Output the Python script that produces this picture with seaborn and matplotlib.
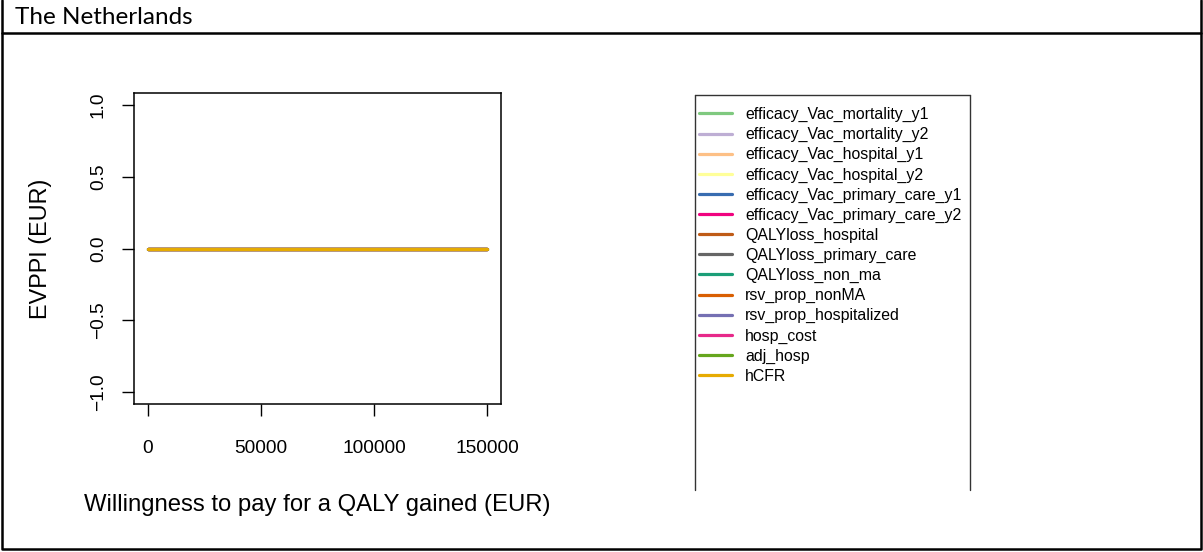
import matplotlib
matplotlib.use("Agg")
import matplotlib.pyplot as plt
from matplotlib.lines import Line2D
import seaborn as sns
import pandas as pd

# ---- data ----
wtp = [0, 25000, 50000, 75000, 100000, 125000, 150000]
parameters = [
    "efficacy_Vac_mortality_y1", "efficacy_Vac_mortality_y2",
    "efficacy_Vac_hospital_y1", "efficacy_Vac_hospital_y2",
    "efficacy_Vac_primary_care_y1", "efficacy_Vac_primary_care_y2",
    "QALYloss_hospital", "QALYloss_primary_care", "QALYloss_non_ma",
    "rsv_prop_nonMA", "rsv_prop_hospitalized", "hosp_cost", "adj_hosp", "hCFR",
]
evppi = {p: [0.0, 0.0, 0.0, 0.0, 0.0, 0.0, 0.0] for p in parameters}
colors = ["#7FC97F", "#BEAED4", "#FDC086", "#FFFF99", "#386CB0", "#F0027F",
          "#BF5B17", "#666666", "#1B9E77", "#D95F02", "#7570B3", "#E7298A",
          "#66A61E", "#E6AB02"]
x_ticks = [0, 50000, 100000, 150000]
y_ticks = [-1.0, -0.5, 0.0, 0.5, 1.0]
y_ticklabels = ["\u22121.0", "\u22120.5", "0.0", "0.5", "1.0"]

df = pd.DataFrame([(w, p, v) for p in parameters for w, v in zip(wtp, evppi[p])],
                  columns=["wtp", "parameter", "evppi"])

sns.set_style("ticks")
plt.rcParams["font.family"] = ["Liberation Sans", "DejaVu Sans"]
plt.rcParams["text.color"] = "black"
plt.rcParams["axes.labelcolor"] = "black"

W, H = 1203, 552
fig = plt.figure(figsize=(W / 100, H / 100), dpi=100)

def fx(x):
    return x / W

def fy(y):
    return 1 - y / H

ax_l, ax_r, ax_t, ax_b = 134, 501, 93, 404
ax = fig.add_axes([fx(ax_l), fy(ax_b), (ax_r - ax_l) / W, (ax_b - ax_t) / H])

sns.lineplot(data=df, x="wtp", y="evppi", hue="parameter", hue_order=parameters,
             palette=colors, linewidth=2.3, ax=ax, legend=True, estimator=None)
ax.get_legend().remove()

ax.set_xlim(-6000, 156000)
ax.set_ylim(-1.08, 1.08)
ax.set_xticks(x_ticks)
ax.set_xticklabels([str(t) for t in x_ticks])
ax.set_yticks(y_ticks)
ax.set_yticklabels(y_ticklabels, rotation=90, va="center")
ax.tick_params(axis="both", direction="out", length=8.6, width=1.0, color="black",
               labelsize=13.8, labelcolor="black", bottom=True, left=True)
ax.tick_params(axis="x", pad=17)
ax.tick_params(axis="y", pad=11)
for s in ax.spines.values():
    s.set_visible(True)
    s.set_color("black")
    s.set_linewidth(1.1)

ax.set_xlabel("Willingness to pay for a QALY gained (EUR)", fontsize=17.2, va="center",
              color="black")
ax.xaxis.set_label_coords(0.5, (ax_b - 505) / (ax_b - ax_t))
ax.set_ylabel("EVPPI (EUR)", fontsize=16.8, va="center", color="black")
ax.yaxis.set_label_coords((40 - ax_l) / (ax_r - ax_l), 0.5)

# legend
leg_handles = [Line2D([], [], color=c, lw=2.3) for c in colors]
leg = fig.legend(leg_handles, parameters, loc="upper left",
                 bbox_to_anchor=(fx(699), fy(107)), frameon=False, fontsize=11.4,
                 handlelength=2.09, handletextpad=0.82, labelspacing=0.315,
                 borderpad=0, borderaxespad=0, labelcolor="black")
# legend frame (open at the bottom)
for xs, ys in [((695, 695), (95, 490)), ((970, 970), (95, 490)), ((695, 970), (95, 95))]:
    fig.add_artist(Line2D([fx(xs[0]), fx(xs[1])], [fy(ys[0]), fy(ys[1])],
                          transform=fig.transFigure, color="#333333", lw=1.0))

# outer panel border and title row
fig.add_artist(Line2D([fx(2), fx(2), fx(1201), fx(1201)], [fy(0), fy(549), fy(549), fy(0)],
                      transform=fig.transFigure, color="black", lw=1.8))
fig.add_artist(Line2D([fx(2), fx(1201)], [fy(33), fy(33)],
                      transform=fig.transFigure, color="black", lw=1.8))
fig.text(fx(15), fy(17), "The Netherlands", fontsize=17.5, family=["Lato", "DejaVu Sans"],
         ha="left", va="center", color="black")

fig.savefig("out.png", dpi=100)
